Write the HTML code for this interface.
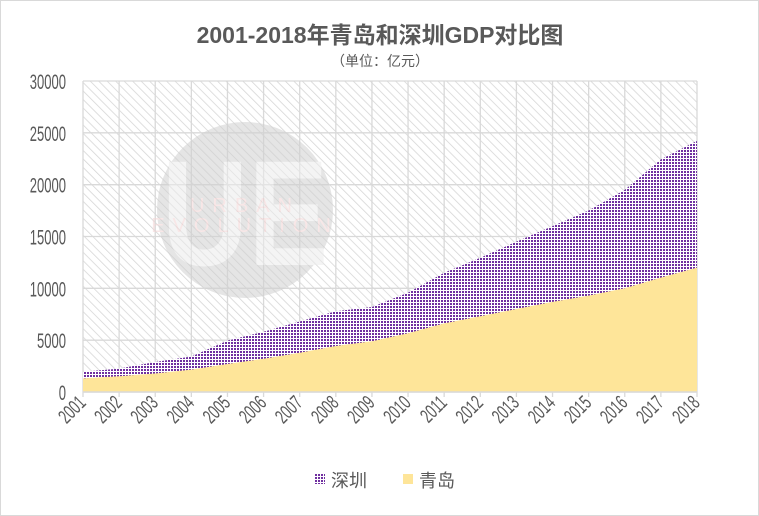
<!DOCTYPE html>
<html><head><meta charset="utf-8"><style>
body{margin:0;background:#fff}
svg{display:block;font-family:"Liberation Sans","Noto Sans CJK SC",sans-serif}
</style></head><body>
<svg id="chart" width="759" height="516">
<defs>
<pattern id="hatch" width="6" height="6" patternUnits="userSpaceOnUse" patternTransform="rotate(-45)">
<rect width="6" height="6" fill="#fff"/><line x1="0" y1="0" x2="0" y2="6" stroke="#d4d4d4" stroke-width="1.5"/></pattern>
<pattern id="dots" width="3" height="3" patternUnits="userSpaceOnUse">
<rect width="3" height="3" fill="#fff"/><rect width="2" height="2" fill="#7030a0"/></pattern>
</defs>
<rect x="0.5" y="0.5" width="758" height="515" fill="#fff" stroke="#d9d9d9"/>
<text x="380" y="43" text-anchor="middle" font-size="23" font-weight="bold" fill="#595959">2001-2018年青岛和深圳GDP对比图</text>
<text x="380" y="66" text-anchor="middle" font-size="14" fill="#595959">（单位：亿元）</text>
<rect x="83" y="81" width="614" height="311" fill="url(#hatch)"/>
<g id="grid"></g>
<g opacity="0.55">
<circle cx="245" cy="210" r="88" fill="#d0d0d0"/>
<text x="245" y="265" text-anchor="middle" font-size="150" font-weight="bold" fill="#ececec" transform="translate(245 0) scale(0.8 1) translate(-245 0)">UE</text>
<text x="245" y="212" text-anchor="middle" font-size="20" letter-spacing="8" fill="#f3d4d4">URBAN</text>
<text x="245" y="232" text-anchor="middle" font-size="20" letter-spacing="8" fill="#f3d4d4">EVOLUTION</text>
</g>
<g id="areas"></g>
<g id="axes"></g>
<g>
<rect x="315" y="474" width="10" height="10" fill="url(#dots)"/>
<text x="331" y="487" font-size="18" fill="#595959">深圳</text>
<rect x="403" y="474" width="10" height="10" fill="#fee599"/>
<text x="419" y="487" font-size="18" fill="#595959">青岛</text>
</g>
</svg>
<script>
const years=[2001,2002,2003,2004,2005,2006,2007,2008,2009,2010,2011,2012,2013,2014,2015,2016,2017,2018];
const shenzhen=[1955,2257,2895,3423,4951,5814,6802,7787,8201,9582,11506,12950,14500,16002,17503,19493,22438,24222];
const qingdao=[1316,1518,1780,2164,2696,3207,3786,4436,4890,5666,6616,7302,8007,8692,9300,10011,11037,12002];
const yTicks=[0,5000,10000,15000,20000,25000,30000];
const NS="http://www.w3.org/2000/svg";
const x0=83,x1=697,yT=81,yB=392,yMax=30000;
const xs=i=>x0+i*(x1-x0)/(years.length-1);
const ys=v=>yB-v/yMax*(yB-yT);
function mk(t,a,p){const e=document.createElementNS(NS,t);for(const k in a)e.setAttribute(k,a[k]);p.appendChild(e);return e;}
const grid=document.getElementById('grid'),areas=document.getElementById('areas'),axes=document.getElementById('axes');
yTicks.forEach(v=>{
 const l=mk('line',{x1:x0,x2:x1,y1:ys(v),y2:ys(v),stroke:'#d9d9d9','stroke-width':1.3},grid);
 
 
 const t=mk('text',{x:66,y:ys(v)+8,'text-anchor':'end','font-size':21,fill:'#595959',transform:`translate(66 ${ys(v)}) scale(0.62 1) translate(-66 ${-ys(v)})`},axes);
 t.textContent=v;
 
 
});
years.forEach((y,i)=>{
 const l=mk('line',{x1:xs(i),x2:xs(i),y1:yT,y2:yB+5,stroke:'#d9d9d9','stroke-width':1.3},grid);
 
 
 const t=mk('text',{x:xs(i)+4,y:yB+12,'text-anchor':'end','font-size':20,fill:'#595959',transform:`rotate(-45 ${xs(i)+4} ${yB+12}) translate(${xs(i)+4} 0) scale(0.65 1) translate(${-(xs(i)+4)} 0)`},axes);
 t.textContent=y;
 
 
});
function area(vals,fill,name){
 let d=`M${xs(0)},${yB}`;vals.forEach((v,i)=>d+=` L${xs(i)},${ys(v)}`);d+=` L${xs(vals.length-1)},${yB} Z`;
 const p=mk('path',{d,fill},areas);
 
 
}
area(shenzhen,'url(#dots)','area-shenzhen');
area(qingdao,'#fee599','area-qingdao');
const ax=mk('line',{x1:x0,x2:x1,y1:yB,y2:yB,stroke:'#d9d9d9','stroke-width':1.5},axes);


</script>
</body></html>
